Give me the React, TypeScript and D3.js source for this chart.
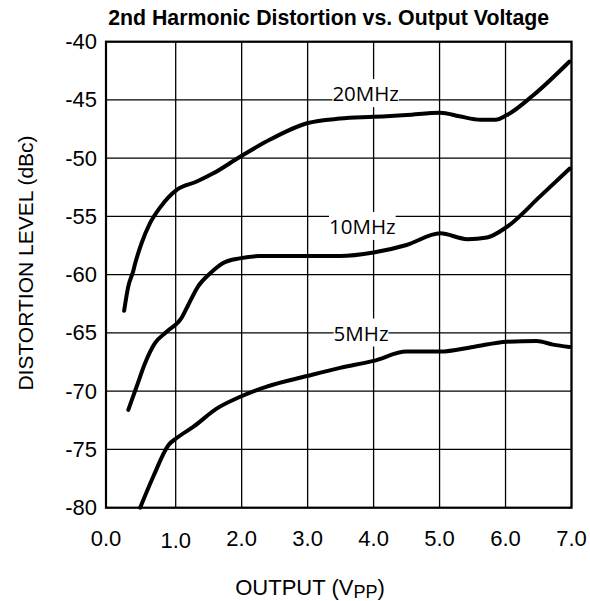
import React, { useEffect, useRef } from "react";
import * as d3 from "d3";

const TITLE = "2nd Harmonic Distortion vs. Output Voltage";
const xTicks = [0, 1, 2, 3, 4, 5, 6, 7];
const yTicks = [-40, -45, -50, -55, -60, -65, -70, -75, -80];

const x20 = [0.26, 0.32, 0.39, 0.42, 0.51, 0.63, 0.78, 1.02, 1.32, 1.57, 1.97, 2.43, 2.99, 3.49, 4.0, 4.5, 5.01, 5.3, 5.62, 5.85, 6.02, 6.42, 6.97];
const y20 = [-63.1, -61.0, -59.7, -59.0, -57.3, -55.6, -54.2, -52.7, -52.0, -51.3, -49.9, -48.4, -47.0, -46.6, -46.45, -46.3, -46.1, -46.4, -46.7, -46.7, -46.3, -44.6, -41.7];

const x10 = [0.32, 0.44, 0.56, 0.70, 0.87, 1.09, 1.19, 1.34, 1.52, 1.72, 1.97, 2.27, 3.03, 3.49, 4.0, 4.5, 5.01, 5.42, 5.72, 6.02, 6.52, 6.97];
const y10 = [-71.6, -69.6, -67.6, -65.9, -64.9, -63.7, -62.6, -61.0, -59.9, -59.0, -58.6, -58.4, -58.4, -58.4, -58.1, -57.45, -56.45, -56.95, -56.8, -55.9, -53.3, -50.9];

const x5 = [0.49, 0.68, 0.9, 1.02, 1.27, 1.62, 1.97, 2.38, 2.99, 3.49, 4.0, 4.5, 5.01, 5.51, 6.02, 6.47, 6.72, 6.97];
const y5 = [-80.0, -77.3, -74.6, -74.0, -73.05, -71.5, -70.5, -69.6, -68.7, -68.0, -67.4, -66.6, -66.6, -66.2, -65.75, -65.7, -66.0, -66.2];

const seriesNames = ["20MHz", "10MHz", "5MHz"];
const seriesX = [x20, x10, x5];
const seriesY = [y20, y10, y5];
const labelX = [3.88, 3.83, 3.81];
const labelY = [-45.1, -56.5, -65.65];

export default function App() {
  const ref = useRef<SVGSVGElement | null>(null);

  useEffect(() => {
    const svg = d3.select(ref.current);
    svg.selectAll("*").remove();
    const left = 106, right = 571.5, top = 41.7, bottom = 507.7;
    const x = d3.scaleLinear().domain([0, 1, 7]).range([left, 175.7, right]);
    const y = d3.scaleLinear().domain([-40, -80]).range([top, bottom]);
    const font = "'Liberation Sans', Arial, sans-serif";

    svg.append("text").attr("x", 328.7).attr("y", 25).attr("text-anchor", "middle")
      .attr("font-family", font).attr("font-weight", "bold").attr("font-size", 21.3)
      .attr("fill", "#000").text(TITLE);

    const g = svg.append("g");
    // grid
    g.selectAll("line.v").data(xTicks).enter().append("line")
      .attr("x1", (d) => x(d)).attr("x2", (d) => x(d)).attr("y1", top).attr("y2", bottom)
      .attr("stroke", "#000").attr("stroke-width", 1.3);
    g.selectAll("line.h").data(yTicks).enter().append("line")
      .attr("x1", left).attr("x2", right).attr("y1", (d) => y(d)).attr("y2", (d) => y(d))
      .attr("stroke", "#000").attr("stroke-width", 1.3);

    // tick labels
    g.selectAll("text.yt").data(yTicks).enter().append("text")
      .attr("x", 97).attr("y", (d) => y(d) + 7.5).attr("text-anchor", "end")
      .attr("font-family", font).attr("font-size", 22).attr("fill", "#000")
      .text((d) => String(d));
    g.selectAll("text.xt").data(xTicks).enter().append("text")
      .attr("x", (d) => x(d)).attr("y", (d) => (d === 1 ? 547.5 : 545.5)).attr("text-anchor", "middle")
      .attr("font-family", font).attr("font-size", 22).attr("fill", "#000")
      .text((d) => d.toFixed(1));

    // axis titles
    const xt = svg.append("text").attr("x", 310).attr("y", 595).attr("text-anchor", "middle")
      .attr("font-family", font).attr("font-size", 22).attr("fill", "#000");
    xt.append("tspan").text("OUTPUT (V");
    xt.append("tspan").attr("font-size", 18).attr("dy", 3).text("PP");
    xt.append("tspan").attr("dy", -3).text(")");
    svg.append("text").attr("transform", "translate(33,263) rotate(-90)").attr("text-anchor", "middle")
      .attr("font-family", font).attr("font-size", 21).attr("fill", "#000")
      .text("DISTORTION LEVEL (dBc)");

    // curve labels with white background
    seriesNames.forEach((name, i) => {
      const lg = g.append("g");
      const rect = lg.append("rect").attr("fill", "#fff");
      const t = lg.append("text").attr("x", x(labelX[i])).attr("y", y(labelY[i]))
        .attr("text-anchor", "middle").attr("font-family", "'Open Sans', sans-serif")
        .attr("font-size", 20.5).attr("fill", "#000").text(name);
      const bb = (t.node() as SVGTextElement).getBBox();
      rect.attr("x", bb.x).attr("y", bb.y).attr("width", bb.width).attr("height", bb.height);
    });

    // curves
    const line = d3.line<[number, number]>().x((d) => x(d[0])).y((d) => y(d[1])).curve(d3.curveMonotoneX);
    seriesNames.forEach((_, i) => {
      const pts = seriesX[i].map((v, k) => [v, seriesY[i][k]] as [number, number]);
      g.append("path").attr("d", line(pts) as string).attr("fill", "none")
        .attr("stroke", "#000").attr("stroke-width", 4).attr("stroke-linecap", "round")
        .attr("stroke-linejoin", "round");
    });

    // frame
    g.append("rect").attr("x", left).attr("y", top).attr("width", right - left).attr("height", bottom - top)
      .attr("fill", "none").attr("stroke", "#000").attr("stroke-width", 2.2);
  }, []);

  return (
    <svg ref={ref} width={590} height={601}
      style={{ position: "absolute", left: 0, top: 0, background: "#fff", display: "block" }} />
  );
}
